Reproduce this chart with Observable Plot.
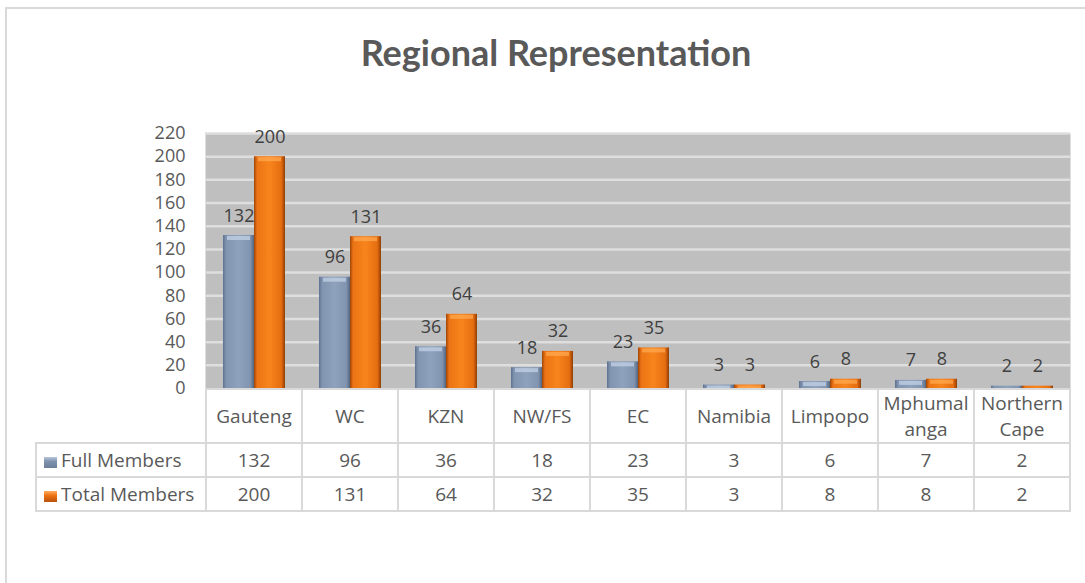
<!DOCTYPE html>
<html><head><meta charset="utf-8">
<script src="https://cdn.jsdelivr.net/npm/d3@7"></script>
<script src="https://cdn.jsdelivr.net/npm/@observablehq/plot@0.6"></script>
<style>
body{margin:0;background:#fff;}
#wrap{position:relative;width:1085px;height:583px;overflow:hidden;background:#fff;font-family:"Open Sans",sans-serif;}
#frame{position:absolute;left:5px;top:7px;width:1200px;height:700px;border-left:2px solid #d9d9d9;border-top:2px solid #d9d9d9;}
#title{position:absolute;left:6px;width:1100px;top:31px;text-align:center;font-family:Lato,sans-serif;font-weight:bold;font-size:36px;color:#595959;line-height:42px;}
#chart{position:absolute;left:0;top:100px;}
#chart svg{overflow:visible;}
#tbl{position:absolute;top:388px;border-collapse:collapse;table-layout:fixed;font-family:"Open Sans",sans-serif;font-size:19px;color:#595959;}
#tbl td{border:2px solid #d9d9d9;text-align:center;padding:0;white-space:nowrap;overflow:visible;}
#tbl tr.h td{height:51px;line-height:26px;}
#tbl tr.r td{height:32px;line-height:32px;}
#tbl td.corner{border-top:none;border-left:none;}
#tbl td.leg{text-align:left;padding-left:7px;}
.ico{display:inline-block;width:13px;height:11px;margin-right:4px;vertical-align:-1px;}
</style></head>
<body>
<div id="wrap">
  <div id="frame"></div>
  <div id="title">Regional Representation</div>
  <div id="chart"></div>
</div>
<script>
const categories = ["Gauteng","WC","KZN","NW/FS","EC","Namibia","Limpopo","Mphumalanga","Northern Cape"];
const headerLabels = ["Gauteng","WC","KZN","NW/FS","EC","Namibia","Limpopo","Mphumal\nanga","Northern\nCape"];
const seriesNames = ["Full Members","Total Members"];
const fullMembers = [132,96,36,18,23,3,6,7,2];
const totalMembers = [200,131,64,32,35,3,8,8,2];
const yTicks = [0,20,40,60,80,100,120,140,160,180,200,220];

const fullData = categories.map((c,i)=>({region:c, value:fullMembers[i]}));
const totalData = categories.map((c,i)=>({region:c, value:totalMembers[i]}));

const chart = Plot.plot({
  width: 1085,
  height: 298,
  marginTop: 33,
  marginBottom: 10,
  marginLeft: 205,
  marginRight: 15,
  style: {fontFamily: "'Open Sans', sans-serif", fontSize: "18px", color: "#595959", background: "transparent"},
  x: {domain: categories, padding: 0, axis: null},
  y: {domain: [0,220], ticks: yTicks, tickSize: 0, tickPadding: 20, label: null, tickFormat: d=>String(d)},
  marks: [
    Plot.frame({fill: "#bfbfbf", stroke: null}),
    Plot.ruleY(yTicks.filter(d=>d>0), {stroke: "#dedede", strokeWidth: 2.5}),
    Plot.barY(fullData, {x: "region", y: "value", fill: "url(#gBlue)", insetLeft: 17, insetRight: 48, className: "blueBars"}),
    Plot.barY(totalData, {x: "region", y: "value", fill: "url(#gOrange)", insetLeft: 48, insetRight: 17, className: "orangeBars"}),
    Plot.tickY(fullData.filter(d=>d.value>2), {x: "region", y: "value", dy: 2.5, stroke: "#c3d1e6", strokeWidth: 4, strokeOpacity: 0.75, insetLeft: 21, insetRight: 52}),
    Plot.tickY(totalData.filter(d=>d.value>2), {x: "region", y: "value", dy: 2.5, stroke: "#ffa850", strokeWidth: 4, strokeOpacity: 0.75, insetLeft: 52, insetRight: 21}),
    Plot.text(fullData, {x: "region", y: "value", text: d=>String(d.value), dx: -15.5, dy: -14, lineAnchor: "bottom", fill: "#404040", fontSize: 18}),
    Plot.text(totalData, {x: "region", y: "value", text: d=>String(d.value), dx: 15.5, dy: -14, lineAnchor: "bottom", fill: "#404040", fontSize: 18})
  ]
});

// gradient defs for the bevelled bars
const svgNS = "http://www.w3.org/2000/svg";
const defs = document.createElementNS(svgNS, "defs");
function grad(id, stops){
  const g = document.createElementNS(svgNS, "linearGradient");
  g.setAttribute("id", id); g.setAttribute("x1","0"); g.setAttribute("x2","1"); g.setAttribute("y1","0"); g.setAttribute("y2","0");
  stops.forEach(([o,c])=>{const s=document.createElementNS(svgNS,"stop"); s.setAttribute("offset",o); s.setAttribute("stop-color",c); g.appendChild(s);});
  defs.appendChild(g);
}
grad("gBlue", [[0,"#5d7090"],[0.1,"#8194b0"],[0.5,"#8fa2bc"],[0.88,"#8194b0"],[1,"#55657f"]]);
grad("gOrange", [[0,"#9e4508"],[0.1,"#ec7414"],[0.5,"#f7851c"],[0.88,"#e56d10"],[1,"#8f3d05"]]);
const svgEl = chart.tagName.toLowerCase()==="svg" ? chart : chart.querySelector("svg");
svgEl.insertBefore(defs, svgEl.firstChild);
d3.select(svgEl).selectAll(".blueBars rect, g.blueBars rect").attr("fill","url(#gBlue)");
d3.select(svgEl).selectAll(".orangeBars rect, g.orangeBars rect").attr("fill","url(#gOrange)");
document.getElementById("chart").appendChild(chart);

// data table aligned with the x scale
const xs = chart.scale("x");
const bw = xs.bandwidth;
const x0 = xs.apply(categories[0]);
const legW = x0 - 36;
const tbl = document.createElement("table");
tbl.id = "tbl";
tbl.style.left = "35px";
let html = `<colgroup><col style="width:${legW}px">` + categories.map(()=>`<col style="width:${bw}px">`).join("") + `</colgroup>`;
html += `<tr class="h"><td class="corner"></td>` + headerLabels.map(l=>`<td>${l.replace("\n","<br>")}</td>`).join("") + `</tr>`;
html += `<tr class="r"><td class="leg"><span class="ico" style="background:linear-gradient(#b9c7dc,#7f92ae 40%,#6a7d99)"></span>${seriesNames[0]}</td>` + fullMembers.map(v=>`<td>${v}</td>`).join("") + `</tr>`;
html += `<tr class="r"><td class="leg"><span class="ico" style="background:linear-gradient(#ffb060,#ee7415 40%,#b9520a)"></span>${seriesNames[1]}</td>` + totalMembers.map(v=>`<td>${v}</td>`).join("") + `</tr>`;
tbl.innerHTML = html;
tbl.style.width = (legW + bw*categories.length) + "px";
document.getElementById("wrap").appendChild(tbl);
</script>
</body></html>
